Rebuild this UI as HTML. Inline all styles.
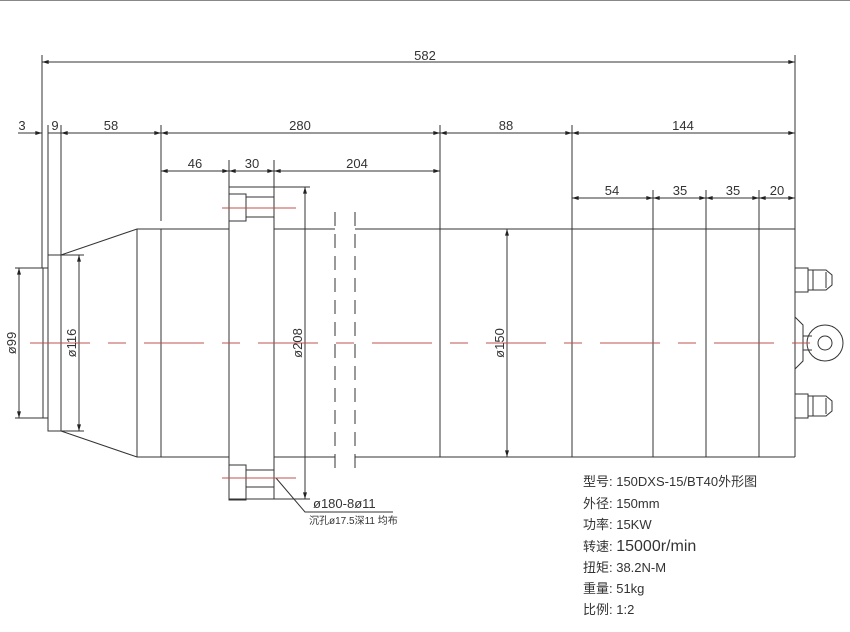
<!DOCTYPE html><html><head><meta charset="utf-8"><style>body{margin:0;background:#fff}svg{display:block}text{font-family:"Liberation Sans","Noto Sans CJK SC",sans-serif;fill:#333}</style></head><body>
<svg width="850" height="632" viewBox="0 0 850 632" xmlns="http://www.w3.org/2000/svg">
<defs><marker id="a" viewBox="0 0 10 6" refX="10" refY="3" markerWidth="8" markerHeight="4" orient="auto-start-reverse"><path d="M0,0L10,3L0,6z" fill="#222"/></marker></defs>
<line x1="0" y1="0.5" x2="850" y2="0.5" stroke="#888"/>
<g stroke="#333" stroke-width="1" fill="none">
<!-- extension lines -->
<line x1="42" y1="55" x2="42" y2="268"/><line x1="795" y1="55" x2="795" y2="229"/>
<line x1="48" y1="125" x2="48" y2="255"/><line x1="61" y1="125" x2="61" y2="255"/>
<line x1="161" y1="125" x2="161" y2="221"/><line x1="440" y1="125" x2="440" y2="229"/>
<line x1="572" y1="125" x2="572" y2="229"/><line x1="229" y1="160" x2="229" y2="187"/><line x1="274" y1="160" x2="274" y2="187"/>
<line x1="653" y1="190" x2="653" y2="229"/><line x1="706" y1="190" x2="706" y2="229"/><line x1="759" y1="190" x2="759" y2="229"/>
<!-- dims -->
<line x1="42" y1="62" x2="795" y2="62" marker-start="url(#a)" marker-end="url(#a)"/>
<line x1="18" y1="133" x2="42" y2="133" marker-end="url(#a)"/>
<line x1="48" y1="133" x2="61" y2="133"/>
<line x1="61" y1="133" x2="161" y2="133" marker-start="url(#a)" marker-end="url(#a)"/>
<line x1="161" y1="133" x2="440" y2="133" marker-start="url(#a)" marker-end="url(#a)"/>
<line x1="440" y1="133" x2="572" y2="133" marker-start="url(#a)" marker-end="url(#a)"/>
<line x1="572" y1="133" x2="795" y2="133" marker-start="url(#a)" marker-end="url(#a)"/>
<line x1="161" y1="171" x2="229" y2="171" marker-start="url(#a)" marker-end="url(#a)"/>
<line x1="229" y1="171" x2="274" y2="171" marker-start="url(#a)" marker-end="url(#a)"/>
<line x1="274" y1="171" x2="440" y2="171" marker-start="url(#a)" marker-end="url(#a)"/>
<line x1="572" y1="198" x2="653" y2="198" marker-start="url(#a)" marker-end="url(#a)"/>
<line x1="653" y1="198" x2="706" y2="198" marker-start="url(#a)" marker-end="url(#a)"/>
<line x1="706" y1="198" x2="759" y2="198" marker-start="url(#a)" marker-end="url(#a)"/>
<line x1="759" y1="198" x2="795" y2="198" marker-start="url(#a)" marker-end="url(#a)"/>
<!-- nose -->
<polyline points="48,268 43,268 43,418 48,418"/>
<rect x="48" y="255" width="13" height="176"/>
<line x1="15" y1="268" x2="43" y2="268"/><line x1="15" y1="418" x2="43" y2="418"/>
<line x1="19" y1="268" x2="19" y2="418" marker-start="url(#a)" marker-end="url(#a)"/>
<line x1="61" y1="255" x2="84" y2="255"/><line x1="61" y1="431" x2="84" y2="431"/>
<line x1="79" y1="255" x2="79" y2="431" marker-start="url(#a)" marker-end="url(#a)"/>
<polyline points="61,255 137,229 229,229"/><polyline points="61,431 137,457 229,457"/>
<line x1="137" y1="229" x2="137" y2="457"/><line x1="161" y1="229" x2="161" y2="457"/>
<!-- flange -->
<rect x="229" y="187" width="45" height="312"/>
<rect x="229" y="194" width="17" height="27"/><polyline points="246,197 274,197"/><polyline points="246,217 274,217"/>
<rect x="229" y="465" width="17" height="35"/><polyline points="246,470 274,470"/><polyline points="246,487 274,487"/>
<line x1="274" y1="187" x2="310" y2="187"/><line x1="274" y1="499" x2="310" y2="499"/>
<line x1="305" y1="187" x2="305" y2="499" marker-start="url(#a)" marker-end="url(#a)"/>
<!-- body -->
<line x1="274" y1="229" x2="335" y2="229"/><line x1="355" y1="229" x2="795" y2="229"/>
<line x1="274" y1="457" x2="335" y2="457"/><line x1="355" y1="457" x2="795" y2="457"/>
<line x1="335" y1="212" x2="335" y2="476" stroke-dasharray="14,8"/><line x1="355" y1="212" x2="355" y2="476" stroke-dasharray="14,8"/>
<line x1="440" y1="229" x2="440" y2="457"/><line x1="572" y1="229" x2="572" y2="457"/>
<line x1="653" y1="229" x2="653" y2="457"/><line x1="706" y1="229" x2="706" y2="457"/><line x1="759" y1="229" x2="759" y2="457"/>
<line x1="795" y1="229" x2="795" y2="457"/>
<line x1="507" y1="229" x2="507" y2="457" marker-start="url(#a)" marker-end="url(#a)"/>
<!-- fittings -->
<path d="M795,268H808V292H795M808,270H826L832,275V285L826,290H808M813,270V290M826,272V288"/>
<path d="M795,394H808V418H795M808,396H826L832,401V411L826,416H808M813,396V416M826,398V414"/>
<path d="M795,317L803,325V361L795,369"/><path d="M803,336H812M803,350H812"/>
<circle cx="825" cy="343" r="18"/><circle cx="825" cy="343" r="7"/>
<!-- leader -->
<polyline points="276,478 305,512 393,512"/>
</g>
<g stroke="#c0504d" stroke-width="1">
<line x1="30" y1="343" x2="820" y2="343" stroke-dasharray="60,18,18,18"/>
<line x1="222" y1="208" x2="296" y2="208"/><line x1="222" y1="478" x2="296" y2="478"/>
</g>
<g font-size="13" text-anchor="middle">
<text x="425" y="60">582</text>
<text x="22" y="130">3</text><text x="55" y="130">9</text><text x="111" y="130">58</text><text x="300" y="130">280</text><text x="506" y="130">88</text><text x="683" y="130">144</text>
<text x="195" y="168">46</text><text x="252" y="168">30</text><text x="357" y="168">204</text>
<text x="612" y="195">54</text><text x="680" y="195">35</text><text x="733" y="195">35</text><text x="777" y="195">20</text>
<text transform="translate(16,343) rotate(-90)">ø99</text>
<text transform="translate(76,343) rotate(-90)">ø116</text>
<text transform="translate(302,343) rotate(-90)">ø208</text>
<text transform="translate(504,343) rotate(-90)">ø150</text>
</g>
<text x="313" y="508" font-size="13">ø180-8ø11</text>
<text x="309" y="524" font-size="10">沉孔ø17.5深11 均布</text>
<g font-size="13">
<text x="583" y="486">型号: 150DXS-15/BT40外形图</text>
<text x="583" y="508">外径: 150mm</text>
<text x="583" y="529">功率: 15KW</text>
<text x="583" y="551"><tspan>转速: </tspan><tspan font-size="16">15000r/min</tspan></text>
<text x="583" y="572">扭矩: 38.2N-M</text>
<text x="583" y="593">重量: 51kg</text>
<text x="583" y="614">比例: 1:2</text>
</g>
</svg></body></html>
